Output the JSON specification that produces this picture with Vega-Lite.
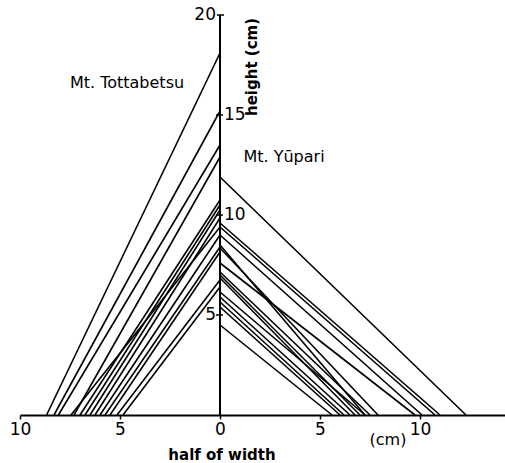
{
  "$schema": "https://vega.github.io/schema/vega-lite/v6.json",
  "width": 485,
  "height": 400,
  "autosize": "none",
  "padding": {"left": 20, "top": 15, "right": 0, "bottom": 48},
  "background": "white",
  "config": {"view": {"stroke": null}, "font": "DejaVu Sans"},
  "datasets": {
    "lines": [
      {"id": "L1", "x": -8.67, "y": 0}, {"id": "L1", "x": 0, "y": 18.1},
      {"id": "L2", "x": -8.3, "y": 0}, {"id": "L2", "x": 0, "y": 15.2},
      {"id": "L3", "x": -8.08, "y": 0}, {"id": "L3", "x": 0, "y": 13.5},
      {"id": "L4", "x": -7.3, "y": 0}, {"id": "L4", "x": 0, "y": 12.9},
      {"id": "L5", "x": -7.45, "y": 0}, {"id": "L5", "x": 0, "y": 9.4},
      {"id": "L6", "x": -7.0, "y": 0}, {"id": "L6", "x": 0, "y": 10.75},
      {"id": "L7", "x": -6.75, "y": 0}, {"id": "L7", "x": 0, "y": 10.5},
      {"id": "L8", "x": -6.5, "y": 0}, {"id": "L8", "x": 0, "y": 10.25},
      {"id": "L9", "x": -6.25, "y": 0}, {"id": "L9", "x": 0, "y": 9.85},
      {"id": "L10", "x": -6.0, "y": 0}, {"id": "L10", "x": 0, "y": 9.0},
      {"id": "L11", "x": -5.75, "y": 0}, {"id": "L11", "x": 0, "y": 8.4},
      {"id": "L12", "x": -5.5, "y": 0}, {"id": "L12", "x": 0, "y": 8.15},
      {"id": "L13", "x": -5.15, "y": 0}, {"id": "L13", "x": 0, "y": 6.75},
      {"id": "L14", "x": -4.85, "y": 0}, {"id": "L14", "x": 0, "y": 6.4},
      {"id": "R1", "x": 0, "y": 11.9}, {"id": "R1", "x": 12.3, "y": 0},
      {"id": "R2", "x": 0, "y": 9.6}, {"id": "R2", "x": 11.0, "y": 0},
      {"id": "R3", "x": 0, "y": 9.4}, {"id": "R3", "x": 10.75, "y": 0},
      {"id": "R4", "x": 0, "y": 9.0}, {"id": "R4", "x": 10.1, "y": 0},
      {"id": "R5", "x": 0, "y": 8.5}, {"id": "R5", "x": 7.25, "y": 0},
      {"id": "R6", "x": 0, "y": 7.6}, {"id": "R6", "x": 9.75, "y": 0},
      {"id": "R7", "x": 0, "y": 8.35}, {"id": "R7", "x": 7.9, "y": 0},
      {"id": "R8", "x": 0, "y": 7.15}, {"id": "R8", "x": 7.5, "y": 0},
      {"id": "R9", "x": 0, "y": 7.0}, {"id": "R9", "x": 7.0, "y": 0},
      {"id": "R10", "x": 0, "y": 6.85}, {"id": "R10", "x": 6.75, "y": 0},
      {"id": "R11", "x": 0, "y": 6.15}, {"id": "R11", "x": 7.25, "y": 0},
      {"id": "R12", "x": 0, "y": 5.9}, {"id": "R12", "x": 6.5, "y": 0},
      {"id": "R13", "x": 0, "y": 5.65}, {"id": "R13", "x": 6.2, "y": 0},
      {"id": "R14", "x": 0, "y": 5.4}, {"id": "R14", "x": 6.0, "y": 0},
      {"id": "R15", "x": 0, "y": 4.5}, {"id": "R15", "x": 5.6, "y": 0}
    ],
    "vaxis": [{"x": 0, "y0": 0, "y1": 20}],
    "vticks": [
      {"x1": -0.15, "x2": 0.2, "y": 20},
      {"x1": -0.2, "x2": 0.15, "y": 15},
      {"x1": -0.2, "x2": 0.15, "y": 10},
      {"x1": -0.2, "x2": 0.15, "y": 5}
    ],
    "vlabelsLeft": [
      {"label": "20", "x": -0.2, "y": 20},
      {"label": "5", "x": -0.2, "y": 5}
    ],
    "vlabelsRight": [
      {"label": "15", "x": 0.2, "y": 15},
      {"label": "10", "x": 0.2, "y": 10}
    ],
    "names": [
      {"label": "Mt. Tottabetsu", "x": -4.65, "y": 16.6},
      {"label": "Mt. Yūpari", "x": 3.2, "y": 12.9},
      {"label": "(cm)", "x": 8.4, "y": -1.25}
    ],
    "titles": [
      {"label": "half of width", "x": 0.1, "y": -2.0}
    ],
    "ytitle": [
      {"label": "height  (cm)", "x": 1.6, "y": 17.4}
    ]
  },
  "encoding": {
    "x": {"type": "quantitative", "scale": {"domain": [-10, 14.25], "nice": false, "zero": false}},
    "y": {"type": "quantitative", "scale": {"domain": [0, 20], "nice": false, "zero": false}, "axis": null}
  },
  "layer": [
    {
      "data": {"name": "lines"},
      "mark": {"type": "line", "color": "black", "strokeWidth": 1.6},
      "encoding": {
        "x": {"field": "x", "type": "quantitative",
          "axis": {"values": [-10, -5, 0, 5, 10], "labelExpr": "abs(datum.value)", "title": null, "grid": false,
            "domainColor": "black", "domainWidth": 2, "tickColor": "black", "tickSize": 4, "tickWidth": 1.5,
            "labelFontSize": 17, "labelColor": "black", "labelPadding": 2, "labelFlush": false, "labelOverlap": false}},
        "y": {"field": "y", "type": "quantitative"},
        "detail": {"field": "id"}
      }
    },
    {
      "data": {"name": "vaxis"},
      "mark": {"type": "rule", "color": "black", "strokeWidth": 2},
      "encoding": {
        "x": {"field": "x", "type": "quantitative"},
        "y": {"field": "y0", "type": "quantitative"},
        "y2": {"field": "y1"}
      }
    },
    {
      "data": {"name": "vticks"},
      "mark": {"type": "rule", "color": "black", "strokeWidth": 1.5},
      "encoding": {
        "x": {"field": "x1", "type": "quantitative"},
        "x2": {"field": "x2"},
        "y": {"field": "y", "type": "quantitative"}
      }
    },
    {
      "data": {"name": "vlabelsLeft"},
      "mark": {"type": "text", "align": "right", "baseline": "middle", "fontSize": 17, "color": "black"},
      "encoding": {
        "x": {"field": "x", "type": "quantitative"},
        "y": {"field": "y", "type": "quantitative"},
        "text": {"field": "label"}
      }
    },
    {
      "data": {"name": "vlabelsRight"},
      "mark": {"type": "text", "align": "left", "baseline": "middle", "fontSize": 17, "color": "black"},
      "encoding": {
        "x": {"field": "x", "type": "quantitative"},
        "y": {"field": "y", "type": "quantitative"},
        "text": {"field": "label"}
      }
    },
    {
      "data": {"name": "names"},
      "mark": {"type": "text", "align": "center", "baseline": "middle", "fontSize": 16, "color": "black"},
      "encoding": {
        "x": {"field": "x", "type": "quantitative"},
        "y": {"field": "y", "type": "quantitative"},
        "text": {"field": "label"}
      }
    },
    {
      "data": {"name": "titles"},
      "mark": {"type": "text", "align": "center", "baseline": "middle", "fontSize": 15, "fontWeight": "bold", "color": "black"},
      "encoding": {
        "x": {"field": "x", "type": "quantitative"},
        "y": {"field": "y", "type": "quantitative"},
        "text": {"field": "label"}
      }
    },
    {
      "data": {"name": "ytitle"},
      "mark": {"type": "text", "align": "center", "baseline": "middle", "fontSize": 15, "fontWeight": "bold", "angle": 270, "color": "black"},
      "encoding": {
        "x": {"field": "x", "type": "quantitative"},
        "y": {"field": "y", "type": "quantitative"},
        "text": {"field": "label"}
      }
    }
  ]
}
